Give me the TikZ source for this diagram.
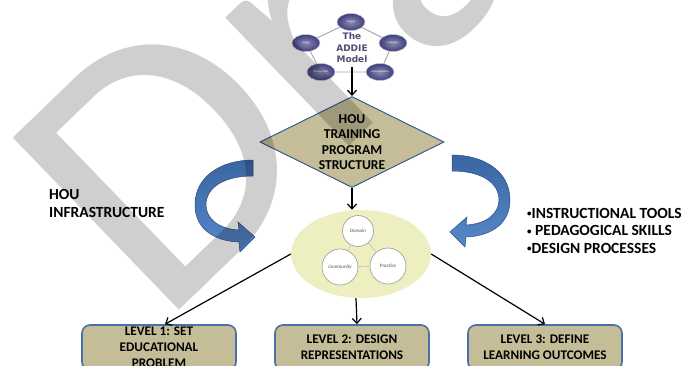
\documentclass[tikz,border=0pt]{standalone}
\usepackage{fontspec}
\setmainfont{Carlito}
\newfontfamily\addiefont{DejaVu Sans}
\usetikzlibrary{shapes.geometric, arrows.meta, positioning}

\definecolor{tanfill}{RGB}{196,189,151}
\definecolor{boxblue}{RGB}{70,114,170}
\definecolor{diamondblue}{RGB}{56,93,148}
\definecolor{curlblue}{RGB}{58,102,162}
\definecolor{curllight}{RGB}{86,136,200}
\definecolor{addieblue}{RGB}{62,62,125}
\definecolor{addietext}{RGB}{78,78,112}
\definecolor{copyellow}{RGB}{238,239,192}

\tikzset{
  flow/.style={-{Straight Barb[length=5pt,width=9pt]}, line width=1.2pt, black},
  levelbox/.style={draw=boxblue, line width=1.6pt, fill=tanfill, rounded corners=8pt,
    minimum width=154pt, minimum height=45pt, inner xsep=2pt, inner ysep=0pt,
    align=center, font=\fontsize{13.2}{16}\selectfont\bfseries},
  phase/.style={ellipse, minimum width=28pt, minimum height=17pt, inner sep=0pt,
    draw=white!70!addieblue, line width=0.5pt, inner color=addieblue!60!white,
    outer color=addieblue, text=white, font=\fontsize{2.6}{3}\selectfont},
  bubble/.style={circle, draw=gray!80, fill=white, line width=0.6pt, inner sep=0pt,
    font=\fontsize{5}{5}\selectfont\itshape, text=gray!60!black},
  sidetext/.style={align=left, inner sep=0pt, font=\fontsize{15.5}{17.5}\selectfont\bfseries}
}

% curled input arrow, drawn from the top end of the ribbon
\newcommand{\bluecurl}{%
  \path[top color=curlblue, bottom color=curllight, draw=curlblue!75!black, line width=0.5pt]
    (0,0) .. controls (-30,0) and (-58,15) .. (-58,45)
    .. controls (-58,68) and (-40,81) .. (-14,82)
    -- (-13,92) -- (2,77) -- (-15,62) -- (-14,70)
    .. controls (-35,69) and (-47,58) .. (-47,45)
    .. controls (-47,28) and (-30,16) .. (0,16) -- cycle;}
\newcommand{\dotbullet}{\raisebox{0.15ex}{\fontsize{9}{9}\selectfont•}}

\begin{document}
\begin{tikzpicture}[x=1pt, y=-1pt]
  \useasboundingbox (0,0) rectangle (689,365);

  % The ADDIE model
  \node[phase] (analysis) at (351,22) {Analysis};
  \node[phase] (design) at (306,43) {Design};
  \node[phase] (development) at (321,72) {Development};
  \node[phase] (implementation) at (380,72) {Implementation};
  \node[phase] (evaluation) at (393,43) {Evaluation};
  \draw[gray!70, line width=0.9pt] (analysis) -- (design) -- (development)
    -- (implementation) -- (evaluation) -- (analysis);
  \node[font=\addiefont\fontsize{9}{11.5}\selectfont\bfseries, text=addietext,
    align=center, inner sep=0pt] (addie) at (352,48) {The\\ADDIE\\Model};

  % Program structure
  \node[diamond, aspect=2, minimum width=184pt, minimum height=91pt, inner sep=0pt,
    fill=tanfill, draw=diamondblue, line width=1pt, align=center,
    font=\fontsize{13.6}{15.4}\selectfont\bfseries] (hou) at (352,142)
    {HOU\\TRAINING\\PROGRAM\\STRUCTURE};

  % Community of practice
  \node[ellipse, fill=copyellow, minimum width=140pt, minimum height=88pt] (cop) at (361,254) {};
  \node[bubble, minimum size=31pt] (domain) at (358,231) {Domain};
  \node[bubble, minimum size=36pt] (community) at (340,267) {Community};
  \node[bubble, minimum size=36pt] (practice) at (388,266) {Practice};
  \draw[gray!60] (domain) -- (community) (domain) -- (practice) (community) -- (practice);

  % Levels
  \node[levelbox] (lvlone) at (159,347.5) {LEVEL 1: SET\\EDUCATIONAL\\PROBLEM};
  \node[levelbox] (lvltwo) at (352,347.5) {LEVEL 2: DESIGN\\REPRESENTATIONS};
  \node[levelbox] (lvlthree) at (545,347.5) {LEVEL 3: DEFINE\\LEARNING OUTCOMES};

  % Connectors
  \draw[flow, shorten <=4pt] (addie.south) -- (hou.north);
  \draw[flow] (hou.south) -- (hou.south |- cop.north);
  \draw[flow] (cop.west) -- ([xshift=6pt]lvlone.north);
  \draw[flow] ([xshift=-5pt]cop.south) -- ([xshift=5pt]lvltwo.north);
  \draw[flow] (cop.east) -- (lvlthree.north);

  % Inputs
  \begin{scope}[shift={(253,160)}]
    \bluecurl
  \end{scope}
  \begin{scope}[shift={(452,155)}, xscale=-1]
    \bluecurl
  \end{scope}
  \node[sidetext, anchor=base west] (infra) at (49,217) {HOU\\INFRASTRUCTURE};
  \node[sidetext, anchor=base west] (tools) at (527,253)
    {\dotbullet INSTRUCTIONAL TOOLS\\\dotbullet\ PEDAGOGICAL SKILLS\\\dotbullet DESIGN PROCESSES};

  % Watermark
  \node[rotate=44, xscale=1.04, anchor=base west, inner sep=0pt, text=black, text opacity=0.19,
    font=\fontsize{373}{373}\selectfont] (draft) at (160,329) {Draft};
\end{tikzpicture}
\end{document}
